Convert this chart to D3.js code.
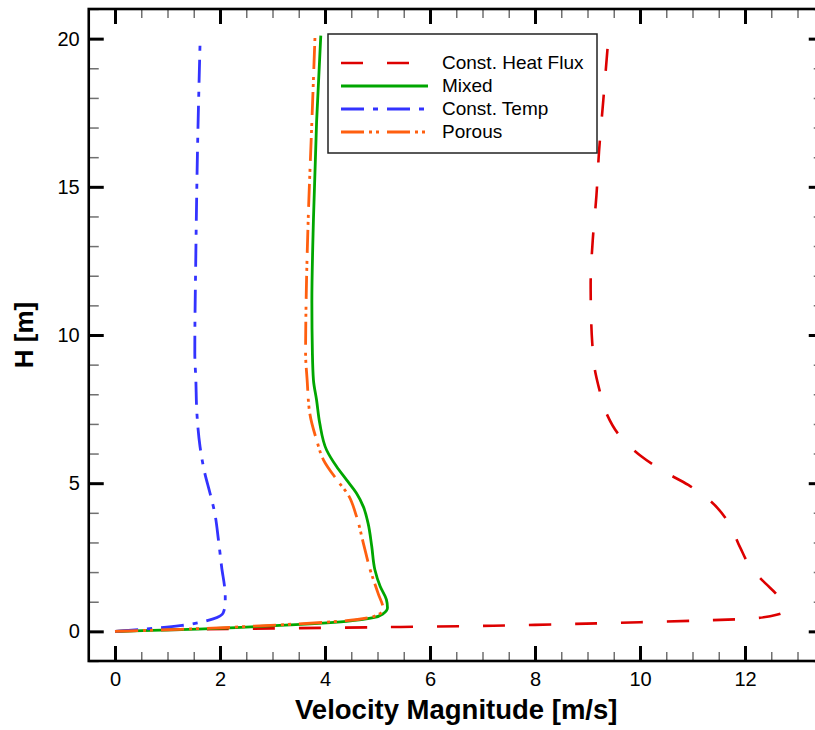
<!DOCTYPE html>
<html>
<head>
<meta charset="utf-8">
<script src="https://cdn.jsdelivr.net/npm/d3@7"></script>
<style>
  body { margin: 0; background: #fff; }
  svg { display: block; font-family: "Liberation Sans", Arial, sans-serif; }
</style>
</head>
<body>
<svg id="chart" width="815" height="730"></svg>
<script>
// Velocity profiles: [m/s] vs height [m]
const heatFluxU = [0, 1, 3, 5, 7.2, 8, 10, 12, 12.5, 12.73, 12.72, 12.6, 12.4, 12.14, 11.9, 11.7, 11.34, 10.92, 10.46, 10.03, 9.6, 9.36, 9.22, 9.13, 9.09, 9.07, 9.06, 9.1, 9.17, 9.22, 9.3, 9.39];
const heatFluxH = [0, 0.05, 0.1, 0.14, 0.19, 0.22, 0.31, 0.42, 0.52, 0.66, 0.9, 1.25, 1.6, 2.08, 2.86, 3.63, 4.4, 4.94, 5.39, 5.9, 6.63, 7.36, 8.2, 8.93, 9.74, 10.5, 11.7, 13.2, 14.7, 16.2, 17.9, 19.85];

const mixedU = [0, 1.24, 3.14, 4.41, 4.92, 5.11, 5.19, 5.17, 5.05, 4.95, 4.89, 4.82, 4.73, 4.6, 4.41, 4.22, 4.03, 3.9, 3.84, 3.78, 3.76, 3.75, 3.78, 3.84, 3.92];
const mixedH = [0, 0.06, 0.2, 0.34, 0.46, 0.6, 0.8, 1.07, 1.52, 2.08, 2.87, 3.65, 4.21, 4.66, 5.11, 5.56, 6.12, 7.02, 7.8, 8.48, 9.4, 11.1, 13.9, 17.2, 20.1];

const constTempU = [0, 0.6, 1.24, 1.55, 1.87, 2.06, 2.1, 2.1, 2.03, 1.97, 1.9, 1.81, 1.71, 1.62, 1.56, 1.54, 1.52, 1.54, 1.57, 1.62];
const constTempH = [0, 0.08, 0.19, 0.28, 0.42, 0.62, 0.96, 1.18, 2.19, 3.09, 3.99, 4.66, 5.34, 6.23, 7.36, 8.48, 9.4, 12.75, 16.1, 19.83];

const porousU = [0, 1.24, 3.14, 4.41, 4.85, 5.05, 5.11, 5.01, 4.86, 4.73, 4.6, 4.44, 4.25, 3.97, 3.84, 3.71, 3.66, 3.63, 3.64, 3.68, 3.75, 3.81];
const porousH = [0, 0.07, 0.22, 0.36, 0.47, 0.6, 0.73, 1.29, 2.08, 2.98, 3.88, 4.61, 5.06, 5.79, 6.46, 7.36, 8.48, 9.4, 11.1, 13.9, 17.2, 20.1];

const seriesNames = ['Const. Heat Flux', 'Mixed', 'Const. Temp', 'Porous'];

const xMajorTicks = [0, 2, 4, 6, 8, 10, 12];
const yMajorTicks = [0, 5, 10, 15, 20];

const xDomain = [-0.5, 13.5];
const yDomain = [-1, 21];

const series = [
  { name: seriesNames[0], u: heatFluxU, h: heatFluxH, color: '#dd0000', dash: '22,24', width: 2.6 },
  { name: seriesNames[1], u: mixedU, h: mixedH, color: '#00a600', dash: null, width: 2.8 },
  { name: seriesNames[2], u: constTempU, h: constTempH, color: '#3333ff', dash: '23,9,5,9', width: 2.8 },
  { name: seriesNames[3], u: porousU, h: porousH, color: '#ff5f0f', dash: '23,5,3,4,3,8', width: 2.8 }
];

const svg = d3.select('#chart');

const x = d3.scaleLinear().domain(xDomain).range([88.75, 823.75]);
const y = d3.scaleLinear().domain(yDomain).range([661, 9]);

const xMinor = d3.range(-0.5, 13.51, 0.5).filter(v => !xMajorTicks.includes(v));
const yMinor = d3.range(-1, 21.01, 1).filter(v => !yMajorTicks.includes(v));

const x0 = x.range()[0], x1 = x.range()[1];
const y0 = y.range()[0], y1 = y.range()[1];

// Curves
const line = d3.line()
  .x(d => x(d[0]))
  .y(d => y(d[1]))
  .curve(d3.curveMonotoneY);

const plot = svg.append('g');
series.forEach(s => {
  const pts = s.u.map((v, i) => [v, s.h[i]]);
  plot.append('path')
    .datum(pts)
    .attr('d', line)
    .attr('fill', 'none')
    .attr('stroke', s.color)
    .attr('stroke-width', s.width)
    .attr('stroke-dasharray', s.dash)
    .attr('stroke-linejoin', 'round');
});

// Ticks, inward on all four sides
function styleTicks(ax, w, col) {
  ax.select('.domain').remove();
  ax.selectAll('line').attr('stroke', col).attr('stroke-width', w);
}

svg.append('g').attr('transform', `translate(0,${y0})`)
  .call(d3.axisBottom(x).tickValues(xMinor).tickSize(-9).tickFormat(''))
  .call(ax => styleTicks(ax, 1.5, '#707070'));
svg.append('g').attr('transform', `translate(0,${y1})`)
  .call(d3.axisTop(x).tickValues(xMinor).tickSize(-9).tickFormat(''))
  .call(ax => styleTicks(ax, 1.5, '#707070'));
svg.append('g').attr('transform', `translate(${x0},0)`)
  .call(d3.axisLeft(y).tickValues(yMinor).tickSize(-10).tickFormat(''))
  .call(ax => styleTicks(ax, 1.5, '#707070'));
svg.append('g').attr('transform', `translate(${x1},0)`)
  .call(d3.axisRight(y).tickValues(yMinor).tickSize(-10).tickFormat(''))
  .call(ax => styleTicks(ax, 1.5, '#707070'));

svg.append('g').attr('transform', `translate(0,${y0})`)
  .call(d3.axisBottom(x).tickValues(xMajorTicks).tickSize(-15).tickPadding(11).tickFormat(d3.format('d')))
  .call(ax => styleTicks(ax, 3, '#000'))
  .call(ax => ax.selectAll('text').attr('fill', '#000').attr('font-size', 20)
    .attr('font-family', '"Liberation Sans", Arial, sans-serif'));
svg.append('g').attr('transform', `translate(0,${y1})`)
  .call(d3.axisTop(x).tickValues(xMajorTicks).tickSize(-15).tickFormat(''))
  .call(ax => styleTicks(ax, 3, '#000'));
svg.append('g').attr('transform', `translate(${x0},0)`)
  .call(d3.axisLeft(y).tickValues(yMajorTicks).tickSize(-15).tickPadding(9).tickFormat(d3.format('d')))
  .call(ax => styleTicks(ax, 3, '#000'))
  .call(ax => ax.selectAll('text').attr('fill', '#000').attr('font-size', 20)
    .attr('font-family', '"Liberation Sans", Arial, sans-serif'));
svg.append('g').attr('transform', `translate(${x1},0)`)
  .call(d3.axisRight(y).tickValues(yMajorTicks).tickSize(-15).tickFormat(''))
  .call(ax => styleTicks(ax, 3, '#000'));

// Frame
svg.append('rect')
  .attr('x', x0).attr('y', y1)
  .attr('width', x1 - x0).attr('height', y0 - y1)
  .attr('fill', 'none').attr('stroke', '#000').attr('stroke-width', 2.6);

// Axis titles
svg.append('text')
  .attr('x', (x0 + x1) / 2).attr('y', 719)
  .attr('text-anchor', 'middle').attr('font-size', 27.5).attr('font-weight', 'bold')
  .text('Velocity Magnitude [m/s]');

svg.append('text')
  .attr('transform', `translate(33,${(y0 + y1) / 2}) rotate(-90)`)
  .attr('text-anchor', 'middle').attr('font-size', 26).attr('font-weight', 'bold')
  .text('H [m]');

// Legend
const legend = svg.append('g').attr('transform', 'translate(328,34)');
legend.append('rect')
  .attr('width', 269).attr('height', 119)
  .attr('fill', '#fff').attr('stroke', '#222').attr('stroke-width', 1.5);

series.forEach((s, i) => {
  const ly = 29 + i * 23;
  legend.append('line')
    .attr('x1', 13).attr('x2', 100).attr('y1', ly).attr('y2', ly)
    .attr('stroke', s.color).attr('stroke-width', s.width)
    .attr('stroke-dasharray', s.dash);
  legend.append('text')
    .attr('x', 114).attr('y', ly + 6)
    .attr('font-size', 19).attr('fill', '#000')
    .text(s.name);
});
</script>
</body>
</html>
